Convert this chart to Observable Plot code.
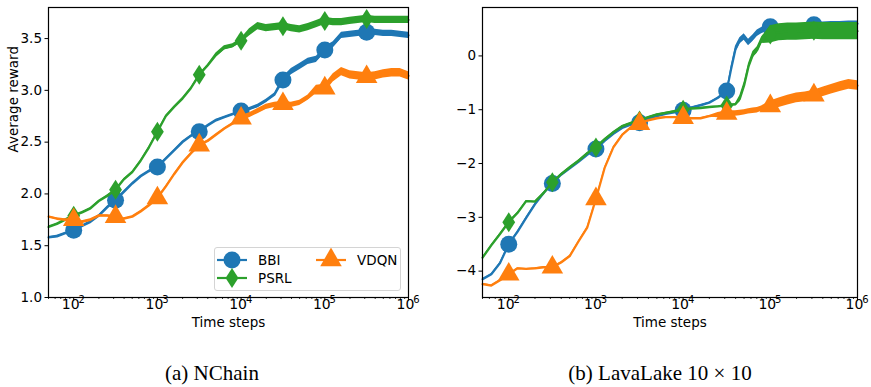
<!DOCTYPE html>
<html><head><meta charset="utf-8">
<script src="https://cdn.jsdelivr.net/npm/d3@7"></script>
<script src="https://cdn.jsdelivr.net/npm/@observablehq/plot@0.6"></script>
<style>
body{margin:0;background:#fff;width:871px;height:387px;position:relative;overflow:hidden;font-family:"DejaVu Sans",sans-serif}
#a{position:absolute;left:0;top:0}
#b{position:absolute;left:440px;top:0}
.cap{position:absolute;top:361px;font-family:"Liberation Serif","DejaVu Serif",serif;font-size:21px;color:#000;white-space:nowrap;transform:translateX(-50%)}
#legend{position:absolute;left:214px;top:247px;width:187px;height:44px;border:1px solid #d4d4d4;border-radius:3px;background:rgba(255,255,255,0.85);box-sizing:border-box}
</style></head><body>
<div id="a"></div><div id="b"></div>
<div id="legend"></div>
<div class="cap" style="left:212px">(a) NChain</div>
<div class="cap" style="left:660px">(b) LavaLake 10 × 10</div>
<script>
// log10(time steps)
const gridA = [1.7,1.8,1.9,2.0,2.1,2.2,2.3,2.4,2.5,2.6,2.7,2.8,2.9,3.0,3.1,3.2,3.3,3.4,3.5,3.6,3.7,3.8,3.9,4.0,4.1,4.2,4.3,4.4,4.5,4.6,4.7,4.8,4.9,5.0,5.1,5.2,5.3,5.4,5.5,5.6,5.7,5.8,5.9,6.0];
const bbiA  = [1.58,1.59,1.62,1.65,1.69,1.73,1.79,1.87,1.94,2.02,2.10,2.17,2.22,2.26,2.34,2.42,2.50,2.56,2.60,2.66,2.71,2.74,2.77,2.80,2.82,2.85,2.90,2.96,3.10,3.18,3.23,3.28,3.30,3.39,3.44,3.53,3.54,3.55,3.56,3.56,3.55,3.55,3.54,3.53];
const psrlA = [1.68,1.71,1.75,1.79,1.82,1.86,1.93,1.98,2.04,2.14,2.21,2.32,2.45,2.60,2.75,2.84,2.92,3.02,3.15,3.24,3.34,3.41,3.43,3.48,3.56,3.62,3.60,3.61,3.62,3.60,3.59,3.61,3.64,3.67,3.66,3.66,3.67,3.68,3.69,3.68,3.68,3.68,3.68,3.68];
const vdqnA = [1.78,1.76,1.75,1.75,1.73,1.75,1.79,1.79,1.78,1.76,1.78,1.83,1.89,1.96,2.07,2.19,2.30,2.39,2.47,2.51,2.57,2.63,2.68,2.73,2.76,2.80,2.84,2.86,2.87,2.86,2.88,2.93,3.01,3.02,3.12,3.18,3.15,3.14,3.13,3.14,3.16,3.17,3.17,3.14];
// half-width of the noisy band
const bbiNA  = [0.01,0.01,0.01,0.01,0.01,0.01,0.01,0.01,0.01,0.01,0.01,0.01,0.01,0.01,0.01,0.01,0.01,0.01,0.01,0.01,0.01,0.01,0.01,0.015,0.015,0.015,0.015,0.015,0.03,0.03,0.03,0.03,0.03,0.03,0.03,0.03,0.03,0.03,0.03,0.03,0.03,0.03,0.03,0.03];
const psrlNA = [0.01,0.01,0.01,0.01,0.01,0.01,0.01,0.01,0.01,0.01,0.01,0.01,0.01,0.01,0.01,0.01,0.01,0.01,0.01,0.01,0.02,0.02,0.02,0.02,0.035,0.035,0.035,0.035,0.035,0.035,0.035,0.035,0.035,0.035,0.035,0.035,0.035,0.035,0.035,0.035,0.035,0.035,0.035,0.035];
const vdqnNA = [0.01,0.01,0.01,0.01,0.01,0.01,0.01,0.01,0.01,0.01,0.01,0.01,0.01,0.01,0.01,0.01,0.01,0.01,0.01,0.01,0.01,0.01,0.01,0.025,0.025,0.025,0.025,0.025,0.025,0.025,0.025,0.025,0.04,0.04,0.04,0.04,0.04,0.04,0.04,0.04,0.04,0.04,0.04,0.04];

const gridB = [1.7,1.8,1.9,2.0,2.1,2.2,2.3,2.4,2.5,2.6,2.7,2.8,2.9,3.0,3.1,3.2,3.3,3.4,3.5,3.6,3.7,3.8,3.9,4.0,4.1,4.2,4.3,4.4,4.5,4.55,4.6,4.65,4.7,4.75,4.8,4.85,4.9,5.0,5.1,5.2,5.3,5.4,5.5,5.6,5.7,5.8,5.9,6.0];
const bbiB  = [-4.15,-4.06,-3.85,-3.50,-3.27,-3.01,-2.76,-2.55,-2.37,-2.21,-2.09,-1.97,-1.84,-1.73,-1.58,-1.45,-1.34,-1.28,-1.24,-1.17,-1.12,-1.08,-1.05,-1.01,-0.96,-0.92,-0.87,-0.78,-0.65,-0.25,0.12,0.28,0.35,0.25,0.33,0.42,0.47,0.54,0.50,0.49,0.53,0.55,0.58,0.58,0.59,0.59,0.60,0.60];
const psrlB = [-3.75,-3.52,-3.31,-3.09,-2.92,-2.70,-2.71,-2.55,-2.35,-2.20,-2.07,-1.95,-1.81,-1.70,-1.55,-1.42,-1.31,-1.25,-1.20,-1.14,-1.09,-1.06,-1.03,-1.00,-0.98,-0.97,-0.95,-0.94,-0.92,-0.91,-0.90,-0.80,-0.55,-0.20,0.02,0.11,0.29,0.40,0.44,0.45,0.45,0.46,0.47,0.46,0.46,0.46,0.46,0.46];
const vdqnB = [-4.24,-4.27,-4.17,-4.06,-3.95,-3.96,-3.95,-3.93,-3.93,-3.84,-3.72,-3.45,-3.19,-2.66,-2.08,-1.70,-1.47,-1.33,-1.26,-1.20,-1.16,-1.14,-1.14,-1.15,-1.16,-1.16,-1.12,-1.10,-1.07,-1.07,-1.07,-1.06,-1.05,-1.03,-1.02,-1.01,-0.98,-0.93,-0.87,-0.82,-0.78,-0.76,-0.73,-0.67,-0.62,-0.57,-0.53,-0.55];
const bbiNB  = [0.015,0.015,0.015,0.015,0.015,0.015,0.015,0.015,0.015,0.015,0.015,0.015,0.015,0.015,0.015,0.015,0.015,0.015,0.015,0.015,0.015,0.015,0.015,0.015,0.015,0.015,0.015,0.015,0.02,0.06,0.06,0.06,0.06,0.06,0.06,0.06,0.06,0.05,0.05,0.05,0.05,0.05,0.05,0.05,0.05,0.05,0.05,0.05];
const psrlNB = [0.015,0.015,0.015,0.015,0.015,0.015,0.015,0.015,0.015,0.015,0.015,0.015,0.015,0.015,0.015,0.015,0.015,0.015,0.015,0.015,0.015,0.015,0.015,0.015,0.015,0.015,0.015,0.015,0.015,0.015,0.015,0.06,0.06,0.06,0.06,0.06,0.06,0.16,0.16,0.16,0.16,0.16,0.16,0.16,0.16,0.16,0.16,0.16];
const vdqnNB = [0.015,0.015,0.015,0.015,0.015,0.015,0.015,0.015,0.015,0.015,0.015,0.015,0.015,0.015,0.015,0.015,0.015,0.015,0.015,0.015,0.015,0.015,0.015,0.015,0.015,0.015,0.015,0.05,0.05,0.05,0.05,0.05,0.05,0.05,0.05,0.05,0.05,0.09,0.09,0.09,0.09,0.09,0.09,0.09,0.09,0.09,0.09,0.09];

const markerExps = [2, 2.5, 3, 3.5, 4, 4.5, 5, 5.5];
const seriesNames = ["BBI", "PSRL", "VDQN"];
const colors = ["#1f77b4", "#2ca02c", "#ff7f0e"];
const yTicksA = [1.0, 1.5, 2.0, 2.5, 3.0, 3.5];
const yTicksB = [-4, -3, -2, -1, 0];
const xTicks = [1e2, 1e3, 1e4, 1e5, 1e6];
const xTickExps = ["2", "3", "4", "5", "6"];

const thinDiamond = {draw(ctx, size) {
  const s = Math.sqrt(size / Math.PI);
  const h = s * 1.25, w = s * 0.8;
  ctx.moveTo(0, -h); ctx.lineTo(w, 0); ctx.lineTo(0, h); ctx.lineTo(-w, 0); ctx.closePath();
}};
const symbols = ["circle", thinDiamond, "triangle"];
const radii = [8.5, 8, 8];

const minorTicks = [];
for (let k = 1; k < 6; k++) for (let m = 2; m <= 9; m++) { const v = m * 10 ** k; if (v >= 50 && v <= 1e6) minorTicks.push(v); }

function rows(grid, vals, noise) {
  return grid.map((e, i) => ({t: 10 ** e, e, v: vals[i], n: noise[i]}));
}

function seriesMarks(data, i) {
  return [
    Plot.areaY(data, {x: "t", y1: d => d.v - d.n, y2: d => d.v + d.n, fill: colors[i], curve: "linear"}),
    Plot.line(data, {x: "t", y: "v", stroke: colors[i], strokeWidth: 2.2}),
    Plot.dot(data.filter(d => markerExps.includes(d.e)), {x: "t", y: "v", fill: colors[i], stroke: "none", symbol: () => symbols[i], r: radii[i]})
  ];
}

function panel({width, marginLeft, marginRight, yDomain, yTicks, yFmt, series, ylabel}) {
  return Plot.plot({
    width, height: 340, marginLeft, marginRight, marginTop: 7, marginBottom: 43,
    style: {fontFamily: "DejaVu Sans, sans-serif", fontSize: "13px", color: "#000", background: "transparent"},
    x: {type: "log", domain: [50, 1e6]},
    y: {domain: yDomain},
    marks: [
      ...series.flatMap((d, i) => seriesMarks(d, i)),
      Plot.frame({stroke: "#000", strokeWidth: 1.2}),
      Plot.axisX({ticks: minorTicks, tickSize: 2, tickFormat: () => "", label: null, strokeWidth: 0.8}),
      Plot.axisX({ticks: xTicks, tickSize: 3.5, tickFormat: () => "", label: null}),
      Plot.text(xTicks, {x: d => d, text: () => "10", frameAnchor: "bottom", dx: -3, dy: 11, fontSize: 14}),
      Plot.text(xTicks, {x: d => d, text: (d, j) => xTickExps[j], frameAnchor: "bottom", dx: 8, dy: 5, fontSize: 10}),
      Plot.axisY({ticks: yTicks, tickSize: 3.5, tickPadding: 3, tickFormat: yFmt, label: null, fontSize: 13.5}),
      Plot.text(["Time steps"], {frameAnchor: "bottom", dy: 29, fontSize: 13.5}),
      ...(ylabel ? [Plot.text([ylabel], {frameAnchor: "left", dx: -35, rotate: -90, fontSize: 13.5})] : [])
    ]
  });
}

document.getElementById("a").append(panel({
  width: 420, marginLeft: 48, marginRight: 12, yDomain: [1.0, 3.8], yTicks: yTicksA,
  yFmt: d => d.toFixed(1), ylabel: "Average reward",
  series: [rows(gridA, bbiA, bbiNA), rows(gridA, psrlA, psrlNA), rows(gridA, vdqnA, vdqnNA)]
}));
document.getElementById("b").append(panel({
  width: 431, marginLeft: 42, marginRight: 14, yDomain: [-4.49, 0.9], yTicks: yTicksB,
  yFmt: d => (d < 0 ? "\u2212" + Math.abs(d) : String(d)), ylabel: null,
  series: [rows(gridB, bbiB, bbiNB), rows(gridB, psrlB, psrlNB), rows(gridB, vdqnB, vdqnNB)]
}));

// legend
const ns = "http://www.w3.org/2000/svg";
const lg = document.createElementNS(ns, "svg");
lg.setAttribute("width", 185); lg.setAttribute("height", 42);
const entries = [{i: 0, x: 2, y: 12}, {i: 1, x: 2, y: 30}, {i: 2, x: 101, y: 12}];
for (const {i, x, y} of entries) {
  const ln = document.createElementNS(ns, "line");
  ln.setAttribute("x1", x); ln.setAttribute("x2", x + 30); ln.setAttribute("y1", y); ln.setAttribute("y2", y);
  ln.setAttribute("stroke", colors[i]); ln.setAttribute("stroke-width", 2.2);
  lg.append(ln);
  const p = document.createElementNS(ns, "path");
  const sym = i === 0 ? d3.symbolCircle : i === 1 ? thinDiamond : d3.symbolTriangle;
  p.setAttribute("d", d3.symbol(sym, Math.PI * radii[i] * radii[i])());
  p.setAttribute("transform", `translate(${x + 15},${y})`);
  p.setAttribute("fill", colors[i]);
  lg.append(p);
  const t = document.createElementNS(ns, "text");
  t.setAttribute("x", x + 41); t.setAttribute("y", y); t.setAttribute("dy", "0.35em");
  t.setAttribute("font-family", "DejaVu Sans, sans-serif"); t.setAttribute("font-size", 13.5);
  t.textContent = seriesNames[i];
  lg.append(t);
}
document.getElementById("legend").append(lg);
</script>
</body></html>
